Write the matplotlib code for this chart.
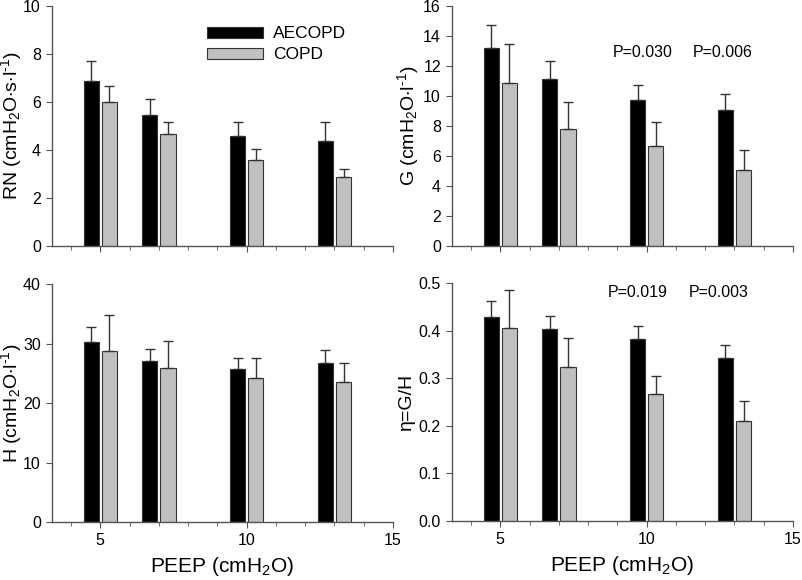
import matplotlib
matplotlib.use("Agg")
import matplotlib.pyplot as plt
import numpy as np
from matplotlib.ticker import MultipleLocator

plt.rcParams['font.family'] = ['Liberation Sans', 'DejaVu Sans']
plt.rcParams['mathtext.fontset'] = 'custom'
plt.rcParams['mathtext.rm'] = 'Liberation Sans'
plt.rcParams['mathtext.it'] = 'Liberation Sans:italic'

peep = [5, 7, 10, 13]
series = ['AECOPD', 'COPD']

rn_ae = [6.87, 5.46, 4.56, 4.38]
rn_ae_err = [0.82, 0.65, 0.61, 0.79]
rn_co = [6.01, 4.66, 3.58, 2.87]
rn_co_err = [0.64, 0.51, 0.46, 0.34]

g_ae = [13.18, 11.09, 9.75, 9.04]
g_ae_err = [1.58, 1.22, 1.00, 1.05]
g_co = [10.87, 7.77, 6.62, 5.02]
g_co_err = [2.56, 1.83, 1.62, 1.35]

h_ae = [30.3, 27.15, 25.7, 26.7]
h_ae_err = [2.56, 1.91, 1.95, 2.3]
h_co = [28.77, 25.87, 24.17, 23.5]
h_co_err = [6.0, 4.6, 3.4, 3.2]

eta_ae = [0.429, 0.403, 0.383, 0.342]
eta_ae_err = [0.033, 0.028, 0.026, 0.027]
eta_co = [0.405, 0.324, 0.266, 0.210]
eta_co_err = [0.080, 0.060, 0.039, 0.042]

rn_label = r'RN (cmH$_\mathrm{2}$O$\cdot$s$\cdot$l$^\mathrm{{\text{-}}1}$)'
g_label = r'G (cmH$_\mathrm{2}$O$\cdot$l$^\mathrm{{\text{-}}1}$)'
h_label = r'H (cmH$_\mathrm{2}$O$\cdot$l$^\mathrm{{\text{-}}1}$)'
eta_label = 'η=G/H'
x_label = r'PEEP (cmH$_\mathrm{2}$O)'

g_pvals = ['P=0.030', 'P=0.006']
eta_pvals = ['P=0.019', 'P=0.003']

W, H = 803, 580
fig = plt.figure(figsize=(W / 100, H / 100), dpi=100)

def px_axes(x0, x1, ytop, ybot):
    return fig.add_axes([x0 / W, 1 - ybot / H, (x1 - x0) / W, (ybot - ytop) / H])

ax_rn = px_axes(52, 393, 6, 245.5)
ax_g = px_axes(452, 793, 6, 245.5)
ax_h = px_axes(52, 393, 284, 522.3)
ax_eta = px_axes(452, 793, 283, 520.7)

off = 0.31
bw = 0.52
edge = '#333333'

def panel(ax, ae, ae_err, co, co_err, ymax, ystep, ylabel, fmt, show_x, lx):
    x = np.array(peep, dtype=float)
    z = np.zeros(len(peep))
    ax.bar(x - off, ae, bw, color='black', edgecolor=edge, linewidth=0.8,
           label=series[0], zorder=2)
    ax.bar(x + off, co, bw, color='#c0c0c0', edgecolor=edge, linewidth=0.8,
           label=series[1], zorder=2)
    ax.errorbar(x - off, ae, yerr=[z, ae_err], fmt='none', ecolor=edge,
                elinewidth=1, capsize=3.5, capthick=1, zorder=3)
    ax.errorbar(x + off, co, yerr=[z, co_err], fmt='none', ecolor=edge,
                elinewidth=1, capsize=3.5, capthick=1, zorder=3)
    ax.set_xlim(3.35, 15)
    ax.set_ylim(0, ymax)
    ax.set_yticks(np.arange(0, ymax + ystep / 2, ystep))
    ax.yaxis.set_major_formatter(plt.FormatStrFormatter(fmt))
    ax.set_xticks([5, 10, 15])
    ax.xaxis.set_minor_locator(MultipleLocator(1))
    for s in ['top', 'right']:
        ax.spines[s].set_visible(False)
    for s in ['left', 'bottom']:
        ax.spines[s].set_color('#555555')
        ax.spines[s].set_linewidth(1)
    ax.tick_params(axis='both', which='major', direction='out', length=4,
                   color='#555555', labelsize=11.5, pad=4)
    ax.tick_params(axis='x', which='minor', direction='out', length=3,
                   color='#555555')
    ax.set_ylabel(ylabel, fontsize=14)
    ax.yaxis.set_label_coords(lx, 0.5)
    if show_x:
        ax.set_xlabel(x_label, fontsize=15, labelpad=5)
    else:
        ax.tick_params(axis='x', labelbottom=False)

panel(ax_rn, rn_ae, rn_ae_err, rn_co, rn_co_err, 10, 2, rn_label, '%d', False, -0.083)
panel(ax_g, g_ae, g_ae_err, g_co, g_co_err, 16, 2, g_label, '%d', False, -0.09)
panel(ax_h, h_ae, h_ae_err, h_co, h_co_err, 40, 10, h_label, '%d', True, -0.083)
panel(ax_eta, eta_ae, eta_ae_err, eta_co, eta_co_err, 0.5, 0.1, eta_label, '%.1f', True, -0.11)

ax_rn.legend(loc='upper left', bbox_to_anchor=(0.455, 0.915), frameon=False,
             fontsize=12.5, handlelength=3.2, handleheight=0.6,
             handletextpad=0.6, labelspacing=0.35, borderpad=0, borderaxespad=0)

for txt, xv in zip(g_pvals, [9.85, 12.6]):
    ax_g.text(xv, 12.9, txt, ha='center', va='center', fontsize=11.5)
for txt, xv in zip(eta_pvals, [9.7, 12.45]):
    ax_eta.text(xv, 0.479, txt, ha='center', va='center', fontsize=11.5)

fig.savefig('out.png', dpi=100)
